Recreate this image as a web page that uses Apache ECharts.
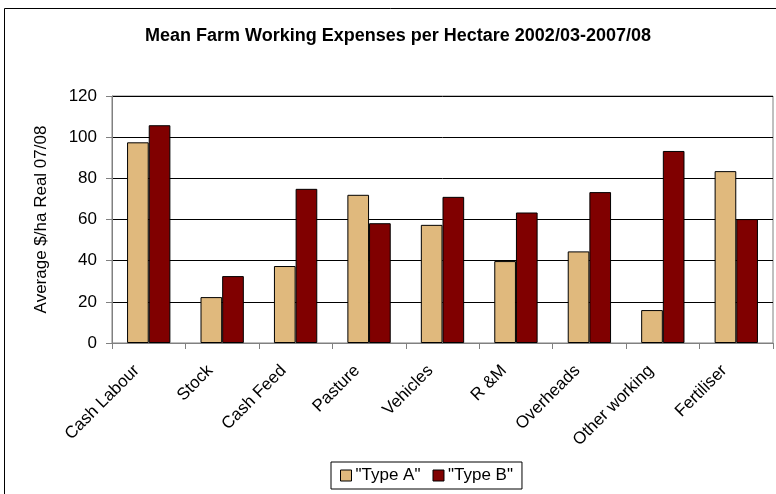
<!DOCTYPE html>
<html>
<head>
<meta charset="utf-8">
<script src="https://cdn.jsdelivr.net/npm/echarts@6/dist/echarts.min.js"></script>
<style>
  html, body { margin: 0; padding: 0; background: #fff; }
  #chart { width: 776px; height: 494px; }
</style>
</head>
<body>
<div id="chart"></div>
<script>
// Expense categories and mean $/ha (real 07/08) for each farm type
const categories = ['Cash Labour', 'Stock', 'Cash Feed', 'Pasture', 'Vehicles', 'R &M', 'Overheads', 'Other working', 'Fertiliser'];
const typeA = [97.5, 22.3, 37.4, 72.0, 57.4, 39.8, 44.5, 16.0, 83.5];
const typeB = [105.8, 32.5, 74.9, 58.2, 71.0, 63.4, 73.3, 93.3, 60.2];
const seriesNames = ['"Type A"', '"Type B"'];
const yTicks = { min: 0, max: 120, interval: 20 };

const font = 'Arial, "Liberation Sans", sans-serif';
const chart = echarts.init(document.getElementById('chart'), null, { renderer: 'canvas' });

chart.setOption({
  animation: false,
  backgroundColor: '#fff',
  textStyle: { fontFamily: font, color: '#000' },
  graphic: [
    {
      type: 'rect',
      shape: { x: 4.5, y: 8.5, width: 790, height: 500 },
      style: { fill: 'none', stroke: '#000', lineWidth: 1 },
      silent: true
    },
    {
      type: 'text',
      x: 398, y: 36,
      style: {
        text: 'Mean Farm Working Expenses per Hectare 2002/03-2007/08',
        font: 'bold 18px ' + font,
        fill: '#000',
        textAlign: 'center',
        textVerticalAlign: 'middle'
      }
    }
  ],
  grid: {
    left: 112, right: 3, top: 96, bottom: 151,
    show: true, borderColor: '#808080', borderWidth: 1, backgroundColor: '#fff'
  },
  legend: {
    data: seriesNames,
    top: 462,
    left: 331,
    itemWidth: 11, itemHeight: 11, itemGap: 12,
    borderColor: '#000', borderWidth: 1, borderRadius: 0,
    padding: [5, 9, 5, 9],
    itemStyle: { borderColor: '#000', borderWidth: 1 },
    textStyle: { fontSize: 17, fontFamily: font, color: '#000', padding: [0, 0, 0, -1] },
    icon: 'rect'
  },
  xAxis: {
    type: 'category',
    data: categories,
    axisLine: { lineStyle: { color: '#808080' } },
    axisTick: { show: true, length: 6, lineStyle: { color: '#808080' } },
    axisLabel: { rotate: 45, fontSize: 17, color: '#000', margin: 13, padding: [0, 17, 0, 0], interval: 0 }
  },
  yAxis: {
    type: 'value',
    min: yTicks.min, max: yTicks.max, interval: yTicks.interval,
    name: 'Average $/ha Real 07/08',
    nameLocation: 'middle',
    nameGap: 62,
    nameTextStyle: { fontSize: 17, color: '#000' },
    axisLine: { show: true, lineStyle: { color: '#808080' } },
    axisTick: { show: true, length: 6, lineStyle: { color: '#808080' } },
    axisLabel: { fontSize: 17, color: '#000', margin: 15 },
    splitLine: { lineStyle: { color: '#000', width: 1 } }
  },
  series: [
    {
      name: seriesNames[0], type: 'bar', data: typeA,
      barGap: '0%', barCategoryGap: '41%',
      itemStyle: { color: '#E0B97D', borderColor: '#000', borderWidth: 1 }
    },
    {
      name: seriesNames[1], type: 'bar', data: typeB,
      itemStyle: { color: '#800000', borderColor: '#000', borderWidth: 1 }
    }
  ]
});
</script>
</body>
</html>
